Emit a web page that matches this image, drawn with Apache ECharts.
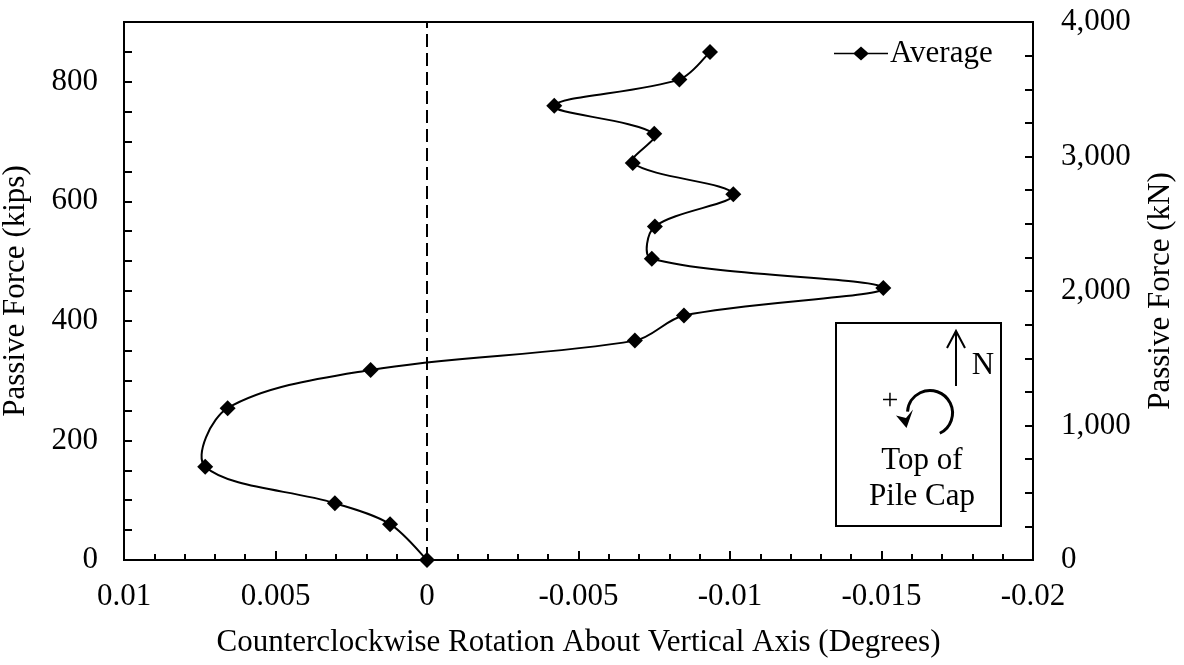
<!DOCTYPE html>
<html>
<head>
<meta charset="utf-8">
<script src="https://cdn.jsdelivr.net/npm/echarts@6/dist/echarts.min.js"></script>
<style>
  html, body { margin: 0; padding: 0; background: #fff; }
  #chart { width: 1184px; height: 665px; }
</style>
</head>
<body>
<div id="chart"></div>
<script>
// Data
const rotationDeg = [0, 0.00122, 0.00304, 0.00732, 0.00658, 0.00186, -0.00686, -0.00848, -0.01506, -0.00742, -0.00752, -0.01011, -0.00679, -0.0075, -0.0042, -0.00833, -0.00934];
const passiveForceKips = [0, 60, 95, 156, 254, 318, 367, 409, 455, 504, 558, 612, 664, 713, 760, 804, 850];
const seriesName = 'Average';
const xTitle = 'Counterclockwise Rotation About Vertical Axis (Degrees)';
const yLeftTitle = 'Passive Force (kips)';
const yRightTitle = 'Passive Force (kN)';
const insetLines = ['Top of', 'Pile Cap'];

const FONT = 'Liberation Serif';
const FS = 31;

const data = rotationDeg.map((x, i) => [x, passiveForceKips[i]]);

const chart = echarts.init(document.getElementById('chart'), null, { renderer: 'canvas' });

const axisLine = { show: true, onZero: false, lineStyle: { color: '#000', width: 2 } };

function dist(a, b) { return Math.hypot(a[0] - b[0], a[1] - b[1]) || 1e-6; }

// Smoothed curve through the points (length-weighted Catmull-Rom), in pixel space via the axes
function renderCurve(params, api) {
  if (params.dataIndex !== 0) return null;
  const pts = data.map(d => api.coord(d));
  const n = pts.length;
  const children = [];
  for (let i = 0; i < n - 1; i++) {
    const p0 = pts[Math.max(i - 1, 0)], p1 = pts[i], p2 = pts[i + 1], p3 = pts[Math.min(i + 2, n - 1)];
    const d01 = i === 0 ? dist(p1, p2) : dist(p0, p1);
    const d12 = dist(p1, p2);
    const d23 = i + 2 > n - 1 ? dist(p1, p2) : dist(p2, p3);
    const t1 = (1 / 3) * d12 / (d01 + d12);
    const t2 = (1 / 3) * d12 / (d12 + d23);
    children.push({
      type: 'bezierCurve',
      shape: {
        x1: p1[0], y1: p1[1], x2: p2[0], y2: p2[1],
        cpx1: p1[0] + (p2[0] - p0[0]) * t1, cpy1: p1[1] + (p2[1] - p0[1]) * t1,
        cpx2: p2[0] - (p3[0] - p1[0]) * t2, cpy2: p2[1] - (p3[1] - p1[1]) * t2
      },
      style: { stroke: '#000', lineWidth: 2, fill: null }
    });
  }
  return { type: 'group', children: children };
}

chart.setOption({
  backgroundColor: '#fff',
  animation: false,
  textStyle: { fontFamily: FONT, color: '#000' },
  grid: { left: 124, right: 151, top: 22, bottom: 105, outerBoundsMode: 'none', containLabel: false,
    show: true, borderColor: '#000', borderWidth: 2, backgroundColor: 'transparent' },
  legend: {
    left: 829, top: 33,
    itemWidth: 54, itemHeight: 14, itemGap: 4,
    textStyle: { fontFamily: FONT, fontSize: FS, color: '#000', padding: [0, 0, 0, -3] },
    data: [{ name: seriesName, icon: 'path://M0,6.2 L20,6.2 L27,0 L34,6.2 L54,6.2 L54,7.8 L34,7.8 L27,14 L20,7.8 L0,7.8 Z' }]
  },
  xAxis: {
    type: 'value', inverse: true, min: -0.02, max: 0.01, interval: 0.005,
    name: xTitle, nameLocation: 'middle', nameGap: 67,
    nameTextStyle: { fontFamily: FONT, fontSize: FS, color: '#000' },
    axisLine: axisLine,
    axisTick: { inside: true, length: 9, lineStyle: { color: '#000', width: 2 } },
    minorTick: { show: true, splitNumber: 5, length: 6, lineStyle: { color: '#000', width: 2 } },
    splitLine: { show: false },
    axisLabel: { margin: 21, fontFamily: FONT, fontSize: FS, color: '#000',
      formatter: v => String(parseFloat(v.toFixed(4))) }
  },
  yAxis: [{
    type: 'value', min: 0, max: 900, interval: 50,
    name: yLeftTitle, nameLocation: 'middle', nameGap: 93, nameRotate: 90,
    nameTextStyle: { fontFamily: FONT, fontSize: FS, color: '#000' },
    axisLine: axisLine,
    axisTick: { inside: true, length: 8, lineStyle: { color: '#000', width: 2 } },
    splitLine: { show: false },
    axisLabel: { margin: 26, fontFamily: FONT, fontSize: FS, color: '#000',
      formatter: v => (Math.round(v) % 200 === 0 && v < 900) ? String(Math.round(v)) : '' }
  }, {
    type: 'value', position: 'right', min: 0, max: 4000, interval: 1000,
    name: yRightTitle, nameLocation: 'middle', nameGap: 112, nameRotate: 90,
    nameTextStyle: { fontFamily: FONT, fontSize: FS, color: '#000' },
    axisLine: axisLine,
    axisTick: { inside: true, length: 8, lineStyle: { color: '#000', width: 2 } },
    minorTick: { show: true, splitNumber: 4, length: 8, lineStyle: { color: '#000', width: 2 } },
    splitLine: { show: false },
    axisLabel: { margin: 28, fontFamily: FONT, fontSize: FS, color: '#000',
      formatter: v => Math.round(v).toLocaleString('en-US') }
  }],
  series: [{
    name: 'curve', type: 'custom', data: [[0, 0]], renderItem: renderCurve,
    clip: false, silent: true, z: 4,
    markLine: {
      silent: true, symbol: 'none', label: { show: false },
      lineStyle: { color: '#000', width: 2, type: [13, 6] },
      data: [{ xAxis: 0 }]
    }
  }, {
    name: seriesName, type: 'scatter', data: data,
    symbol: 'diamond', symbolSize: 16,
    itemStyle: { color: '#000', opacity: 1 },
    z: 5
  }],
  graphic: [
    { type: 'rect', shape: { x: 836, y: 323, width: 165, height: 203 }, style: { fill: '#fff', stroke: '#000', lineWidth: 2 }, z: 10 },
    { type: 'line', shape: { x1: 956, y1: 386, x2: 956, y2: 332 }, style: { stroke: '#000', lineWidth: 2 }, z: 11 },
    { type: 'polyline', shape: { points: [[947, 348], [956, 331], [965, 348]] }, style: { stroke: '#000', lineWidth: 2, fill: null }, z: 11 },
    { type: 'text', style: { text: 'N', x: 983, y: 366, align: 'center', verticalAlign: 'middle', font: FS + 'px "' + FONT + '"', fill: '#000' }, z: 11 },
    { type: 'arc', shape: { cx: 930, cy: 413, r: 22.5, startAngle: 1.12, endAngle: Math.PI * 1.02, clockwise: false }, style: { stroke: '#000', lineWidth: 3, fill: null }, z: 11 },
    { type: 'polygon', shape: { points: [[906.5, 428], [896, 415.5], [906, 418], [913, 409.5]] }, style: { fill: '#000' }, z: 11 },
    { type: 'text', style: { text: '+', x: 890, y: 401, align: 'center', verticalAlign: 'middle', font: '30px "' + FONT + '"', fill: '#000' }, z: 11 },
    { type: 'text', style: { text: insetLines[0], x: 922, y: 461, align: 'center', verticalAlign: 'middle', font: FS + 'px "' + FONT + '"', fill: '#000' }, z: 11 },
    { type: 'text', style: { text: insetLines[1], x: 922, y: 497, align: 'center', verticalAlign: 'middle', font: FS + 'px "' + FONT + '"', fill: '#000' }, z: 11 }
  ]
});
</script>
</body>
</html>
